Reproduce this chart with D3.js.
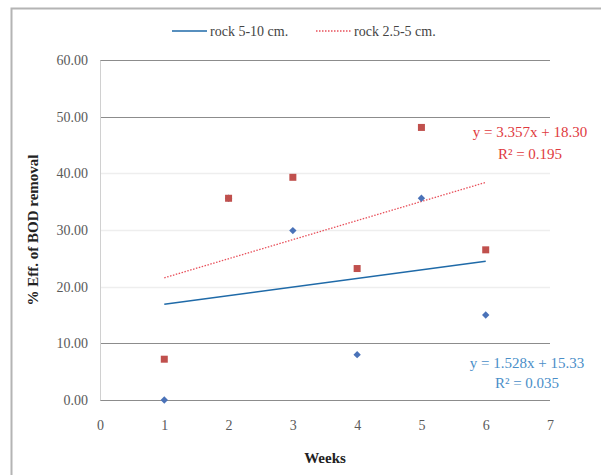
<!DOCTYPE html>
<html>
<head>
<meta charset="utf-8">
<script src="https://cdn.jsdelivr.net/npm/d3@7"></script>
<style>
  body { margin: 0; background: #fff; }
  svg text { font-family: "Liberation Serif", "DejaVu Serif", serif; }
</style>
</head>
<body>
<div id="viz"></div>
<script>
// scatter of BOD removal per week with linear trendlines

const weeks = [1, 2, 3, 4, 5, 6];
const rockLarge = [0.0, 35.6, 29.9, 8.0, 35.6, 15.0];   // rock 5-10 cm.
const rockSmall = [7.2, 35.6, 39.3, 23.2, 48.1, 26.5];  // rock 2.5-5 cm.
const seriesNames = ['rock 5-10 cm.', 'rock 2.5-5 cm.'];
const xTicks = [0, 1, 2, 3, 4, 5, 6, 7];
const yTicks = [0, 10, 20, 30, 40, 50, 60];
const eqLarge = ['y = 1.528x + 15.33', 'R² = 0.035'];
const eqSmall = ['y = 3.357x + 18.30', 'R² = 0.195'];

const width = 601, height = 475;
const margins = { top: 60, left: 100, right: 51, bottom: 75 };
const boundedWidth = width - margins.left - margins.right;
const boundedHeight = height - margins.top - margins.bottom;

const svg = d3.select('#viz').append('svg')
    .attr('width', width)
    .attr('height', height);

// chart frame (top and left edges only show)
svg.append('path')
    .attr('d', `M11.5,${height} V8.5 H${width}`)
    .attr('fill', 'none')
    .attr('stroke', '#b4b4b4')
    .attr('stroke-width', 2);

const bounds = svg.append('g')
    .attr('transform', `translate(${margins.left}, ${margins.top})`);

const xScale = d3.scaleLinear().domain([0, 7]).range([0, boundedWidth]);
const yScale = d3.scaleLinear().domain([0, 60]).range([boundedHeight, 0]);

// gridlines
const darkGrid = [0, 10, 50, 60];
bounds.append('g')
    .selectAll('line')
    .data(yTicks)
    .join('line')
    .attr('x1', 0)
    .attr('x2', boundedWidth)
    .attr('y1', d => Math.round(yScale(d)) + 0.5)
    .attr('y2', d => Math.round(yScale(d)) + 0.5)
    .attr('stroke', d => darkGrid.includes(d) ? '#8c8c8c' : '#eeeeee')
    .attr('stroke-width', d => darkGrid.includes(d) ? 1.2 : 1.5);

// y axis
const yAxis = bounds.append('g')
    .call(d3.axisLeft(yScale).tickValues(yTicks).tickFormat(d3.format('.2f')).tickSize(0).tickPadding(12));
yAxis.select('.domain').attr('stroke', '#d0d0d0');
yAxis.selectAll('text')
    .attr('font-size', 14)
    .attr('fill', '#5a5a5a')
    .style('font-family', '"Liberation Serif", serif');

// x axis
const xAxis = bounds.append('g')
    .attr('transform', `translate(0, ${boundedHeight})`)
    .call(d3.axisBottom(xScale).tickValues(xTicks).tickFormat(d3.format('d')).tickSize(0).tickPadding(20));
xAxis.select('.domain').remove();
xAxis.selectAll('text')
    .attr('font-size', 14)
    .attr('fill', '#5a5a5a')
    .style('font-family', '"Liberation Serif", serif');

// axis titles
svg.append('text')
    .attr('transform', `translate(38, ${margins.top + 170}) rotate(-90)`)
    .attr('text-anchor', 'middle')
    .attr('font-size', 15)
    .attr('font-weight', 'bold')
    .attr('fill', '#222')
    .text('% Eff. of BOD removal');

svg.append('text')
    .attr('x', 325)
    .attr('y', 463)
    .attr('text-anchor', 'middle')
    .attr('font-size', 15)
    .attr('font-weight', 'bold')
    .attr('fill', '#222')
    .text('Weeks');

// least squares fit
function fit(xs, ys) {
    const mx = d3.mean(xs), my = d3.mean(ys);
    const sxy = d3.sum(xs, (x, i) => (x - mx) * (ys[i] - my));
    const sxx = d3.sum(xs, x => (x - mx) * (x - mx));
    const m = sxy / sxx;
    return { m: m, b: my - m * mx };
}

const line = d3.line()
    .x(d => xScale(d[0]))
    .y(d => yScale(d[1]));

const xEnds = d3.extent(weeks);
const fitLarge = fit(weeks, rockLarge);
const fitSmall = fit(weeks, rockSmall);

bounds.append('path')
    .datum(xEnds.map(x => [x, fitSmall.m * x + fitSmall.b]))
    .attr('fill', 'none')
    .attr('stroke', '#e8505b')
    .attr('stroke-width', 1.3)
    .attr('stroke-dasharray', '1.5,1.5')
    .attr('d', line);

bounds.append('path')
    .datum(xEnds.map(x => [x, fitLarge.m * x + fitLarge.b]))
    .attr('fill', 'none')
    .attr('stroke', '#1f6aa8')
    .attr('stroke-width', 1.6)
    .attr('d', line);

// points: diamonds first so the red squares sit on top
bounds.append('g')
    .selectAll('rect')
    .data(weeks.map((w, i) => [w, rockLarge[i]]))
    .join('rect')
    .attr('x', -2.6)
    .attr('y', -2.6)
    .attr('width', 5.2)
    .attr('height', 5.2)
    .attr('transform', d => `translate(${xScale(d[0])}, ${yScale(d[1])}) rotate(45)`)
    .attr('fill', '#4a72b8');

bounds.append('g')
    .selectAll('rect')
    .data(weeks.map((w, i) => [w, rockSmall[i]]))
    .join('rect')
    .attr('x', d => xScale(d[0]) - 3.5)
    .attr('y', d => yScale(d[1]) - 3.5)
    .attr('width', 7)
    .attr('height', 7)
    .attr('fill', '#c0504d');

// equation labels
svg.append('g')
    .selectAll('text')
    .data(eqSmall)
    .join('text')
    .attr('x', 530)
    .attr('y', (d, i) => 137 + i * 22)
    .attr('text-anchor', 'middle')
    .attr('font-size', 15)
    .attr('fill', '#e03a3e')
    .text(d => d);

svg.append('g')
    .selectAll('text')
    .data(eqLarge)
    .join('text')
    .attr('x', 527)
    .attr('y', (d, i) => 368 + i * 20)
    .attr('text-anchor', 'middle')
    .attr('font-size', 15)
    .attr('fill', '#4a8ec8')
    .text(d => d);

// legend
const legendX = [172, 316];
const legendColors = ['#1f6aa8', '#e8505b'];
const legend = svg.append('g')
    .selectAll('g')
    .data(seriesNames)
    .join('g')
    .attr('transform', (d, i) => `translate(${legendX[i]}, 31)`);

legend.append('line')
    .attr('x1', 0)
    .attr('x2', 35)
    .attr('y1', 0)
    .attr('y2', 0)
    .attr('stroke', (d, i) => legendColors[i])
    .attr('stroke-width', (d, i) => i === 0 ? 1.6 : 1.3)
    .attr('stroke-dasharray', (d, i) => i === 0 ? null : '1.5,1.5');

legend.append('text')
    .attr('x', 38)
    .attr('y', 5)
    .attr('font-size', 14)
    .attr('fill', '#444')
    .text(d => d);
</script>
</body>
</html>
